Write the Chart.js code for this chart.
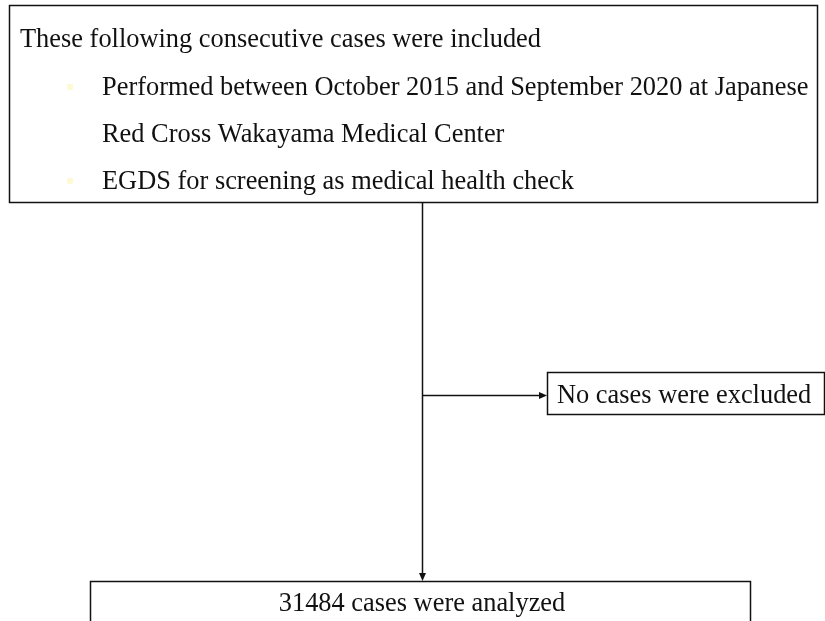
<!DOCTYPE html>
<html>
<head>
<meta charset="utf-8">
<script src="https://cdn.jsdelivr.net/npm/chart.js@4.4.1/dist/chart.umd.min.js"></script>
<style>
html,body{margin:0;padding:0;background:#fff;}
#wrap{width:825px;height:621px;position:relative;}
</style>
</head>
<body>
<div id="wrap"><canvas id="c" width="825" height="621"></canvas></div>
<script>
// ---- content (data) ----
const headerText = "These following consecutive cases were included";
const bulletLines = [
  ["Performed between October 2015 and September 2020 at Japanese", "Red Cross Wakayama Medical Center"],
  ["EGDS for screening as medical health check"]
];
const excludedText = "No cases were excluded";
const analyzedCount = 31484;
const analyzedLabel = "cases were analyzed";

// ---- layout (in chart value space: x 0..825, y 0..621 top-down) ----
const layout = {
  top: {x1: 9, y1: 5, x2: 817, y2: 202},
  headerPos: {x: 20, y: 47},
  bulletX: 70, textX: 102, firstLineY: 95, lineStep: 47,
  trunkX: 422,
  branchY: 395,
  excl: {x1: 547, y1: 372, x2: 824, y2: 414, textX: 557, textY: 403},
  bottom: {x1: 90, y1: 581, x2: 750, y2: 640, textY: 611}
};
const FONT = '26.4px "Liberation Serif", "Times New Roman", serif';

const flowPlugin = {
  id: 'flow',
  afterDraw(chart) {
    const ctx = chart.ctx;
    const xs = chart.scales.x, ys = chart.scales.y;
    const X = v => xs.getPixelForValue(v);
    const Y = v => ys.getPixelForValue(v);
    ctx.save();
    ctx.strokeStyle = '#111';
    ctx.fillStyle = '#111';
    ctx.lineWidth = 1.5;
    const rect = r => { ctx.strokeRect(X(r.x1)+0.5, Y(r.y1)+0.5, X(r.x2)-X(r.x1), Y(r.y2)-Y(r.y1)); };
    rect(layout.top);
    rect(layout.excl);
    rect(layout.bottom);

    // text
    ctx.font = FONT;
    ctx.textBaseline = 'alphabetic';
    ctx.textAlign = 'left';
    ctx.fillStyle = '#111';
    ctx.fillText(headerText, X(layout.headerPos.x), Y(layout.headerPos.y));
    let li = 0;
    bulletLines.forEach(item => {
      item.forEach((line, k) => {
        const yy = layout.firstLineY + li * layout.lineStep;
        if (k === 0) {
          ctx.save();
          ctx.fillStyle = '#fdf9d2';
          ctx.beginPath();
          ctx.arc(X(layout.bulletX), Y(yy - 8), 3.2, 0, Math.PI*2);
          ctx.fill();
          ctx.restore();
        }
        ctx.fillText(line, X(layout.textX), Y(yy));
        li++;
      });
    });
    ctx.fillText(excludedText, X(layout.excl.textX), Y(layout.excl.textY));
    ctx.textAlign = 'center';
    ctx.fillText(analyzedCount + ' ' + analyzedLabel, X(layout.trunkX), Y(layout.bottom.textY));

    // connectors
    const tx = X(layout.trunkX) + 0.5;
    ctx.beginPath();
    ctx.moveTo(tx, Y(layout.top.y2));
    ctx.lineTo(tx, Y(layout.bottom.y1) - 6);
    ctx.moveTo(tx, Y(layout.branchY) + 0.5);
    ctx.lineTo(X(layout.excl.x1) - 6, Y(layout.branchY) + 0.5);
    ctx.stroke();
    // arrowheads
    ctx.fillStyle = '#111';
    ctx.beginPath();
    ctx.moveTo(tx, Y(layout.bottom.y1));
    ctx.lineTo(tx - 3.5, Y(layout.bottom.y1) - 8);
    ctx.lineTo(tx + 3.5, Y(layout.bottom.y1) - 8);
    ctx.closePath(); ctx.fill();
    const by = Y(layout.branchY) + 0.5;
    ctx.beginPath();
    ctx.moveTo(X(layout.excl.x1), by);
    ctx.lineTo(X(layout.excl.x1) - 8, by - 3.5);
    ctx.lineTo(X(layout.excl.x1) - 8, by + 3.5);
    ctx.closePath(); ctx.fill();
    ctx.restore();
  }
};

new Chart(document.getElementById('c'), {
  type: 'scatter',
  data: { datasets: [{ data: [], pointRadius: 0 }] },
  options: {
    responsive: false,
    animation: false,
    layout: { padding: 0 },
    plugins: { legend: { display: false }, tooltip: { enabled: false }, title: { display: false } },
    scales: {
      x: { type: 'linear', min: 0, max: 825, display: false },
      y: { type: 'linear', min: 0, max: 621, reverse: true, display: false }
    }
  },
  plugins: [flowPlugin]
});
</script>
</body>
</html>
